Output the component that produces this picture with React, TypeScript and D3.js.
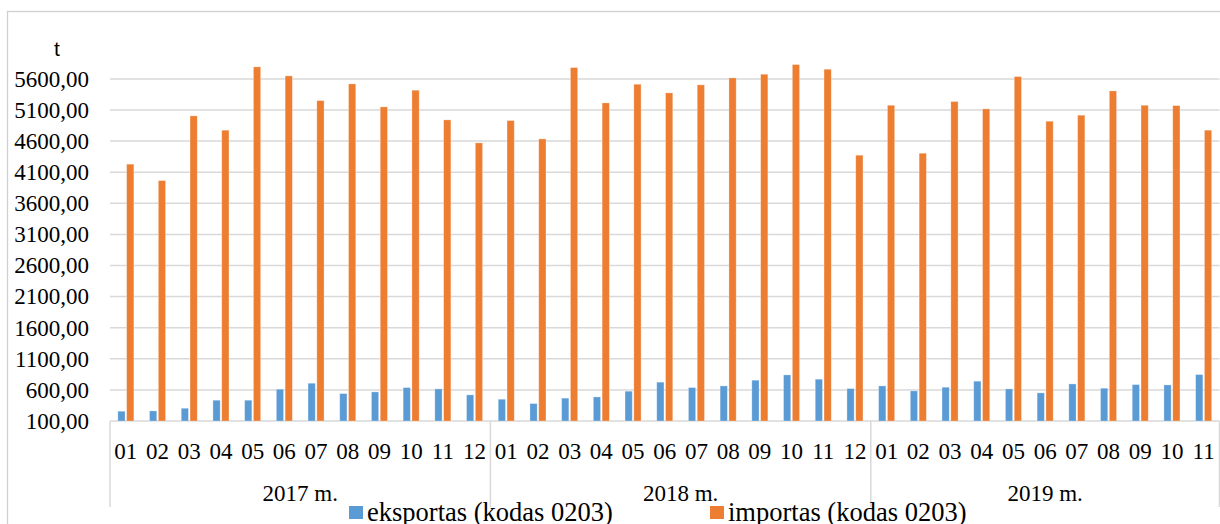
import * as d3 from "d3";

// t, monthly
const months = [
  "01", "02", "03", "04", "05", "06", "07", "08", "09", "10", "11", "12",
  "01", "02", "03", "04", "05", "06", "07", "08", "09", "10", "11", "12",
  "01", "02", "03", "04", "05", "06", "07", "08", "09", "10", "11",
];
const years = ["2017 m.", "2018 m.", "2019 m."];
const monthsPerYear = [12, 12, 11];

const eksportas = [
  257, 262, 305, 434, 434, 611, 707, 541, 568, 637, 616, 520,
  450, 380, 467, 487, 579, 724, 637, 664, 756, 841, 772, 621,
  664, 584, 643, 740, 616, 552, 696, 627, 685, 680, 846,
];
const importas = [
  4229, 3965, 5005, 4775, 5793, 5648, 5251, 5520, 5150, 5418, 4941, 4571,
  4930, 4635, 5782, 5214, 5514, 5375, 5504, 5616, 5675, 5830, 5755, 4373,
  5176, 4405, 5236, 5118, 5637, 4919, 5016, 5407, 5176, 5171, 4775,
];
const yTicks = [100, 600, 1100, 1600, 2100, 2600, 3100, 3600, 4100, 4600, 5100, 5600];
const seriesNames = ["eksportas (kodas 0203)", "importas (kodas 0203)"];
const colors = ["#5b9bd5", "#ed7d31"];

const W = 1220, H = 524;
const left = 110, right = 1219.5, base = 421;
const serif = "'Liberation Serif', 'Times New Roman', serif";
const grid = "#d9d9d9";

export default function App() {
  const keys = months.map((_, i) => String(i));
  const x = d3.scaleBand().domain(keys).range([left, right]);
  const y = d3.scaleLinear().domain([100, 6100]).range([base, base - 6000 * 0.0622]);
  const sub = d3.scaleBand().domain(["e", "i"]).range([0, x.bandwidth()])
    .paddingInner(0.18).paddingOuter(0.89);

  // year group boundaries
  const bounds = [0];
  monthsPerYear.forEach((n, i) => bounds.push(bounds[i] + n));
  const edgeX = (k: number) => (k < months.length ? x(String(k))! : right);

  return (
    <svg width={W} height={H} style={{ position: "absolute", left: 0, top: 0, background: "#fff" }}>
      <rect x={7.5} y={11.5} width={W + 20} height={H + 20} fill="#fff" stroke="#d0d0d0" strokeWidth={1.3} />

      {yTicks.map((t) => (
        <g key={t}>
          <line x1={left} x2={right} y1={y(t)} y2={y(t)} stroke={grid} strokeWidth={1.5} />
          <text x={89} y={y(t)} dy="0.34em" textAnchor="end" fontFamily={serif} fontSize={23} fill="#000">
            {d3.format(".2f")(t).replace(".", ",")}
          </text>
        </g>
      ))}

      <text x={57} y={56} textAnchor="middle" fontFamily="'Liberation Sans', Arial, sans-serif" fontSize={21} fill="#000">t</text>

      {keys.map((k, i) => (
        <g key={k}>
          <rect x={x(k)! + sub("e")!} y={y(eksportas[i])} width={sub.bandwidth()}
            height={y(100) - y(eksportas[i])} fill={colors[0]} stroke="#fff" strokeOpacity={0.35} strokeWidth={0.8} />
          <rect x={x(k)! + sub("i")!} y={y(importas[i])} width={sub.bandwidth()}
            height={y(100) - y(importas[i])} fill={colors[1]} stroke="#fff" strokeOpacity={0.35} strokeWidth={0.8} />
          <text x={x(k)! + x.bandwidth() / 2} y={459} textAnchor="middle" fontFamily={serif} fontSize={23} fill="#000">
            {months[i]}
          </text>
        </g>
      ))}

      {bounds.map((b, i) => (
        <line key={i} x1={edgeX(b)} x2={edgeX(b)} y1={base} y2={507} stroke={grid} strokeWidth={1.5} />
      ))}
      {years.map((yr, i) => (
        <text key={yr} x={(edgeX(bounds[i]) + edgeX(bounds[i + 1])) / 2} y={501} textAnchor="middle"
          fontFamily={serif} fontSize={23} fill="#000">{yr}</text>
      ))}

      {seriesNames.map((s, i) => {
        const lx = [349, 710][i];
        return (
          <g key={s}>
            <rect x={lx} y={506} width={14} height={13} fill={colors[i]} />
            <text x={lx + 18} y={521} fontFamily={serif} fontSize={26.5} fill="#000">{s}</text>
          </g>
        );
      })}
    </svg>
  );
}
